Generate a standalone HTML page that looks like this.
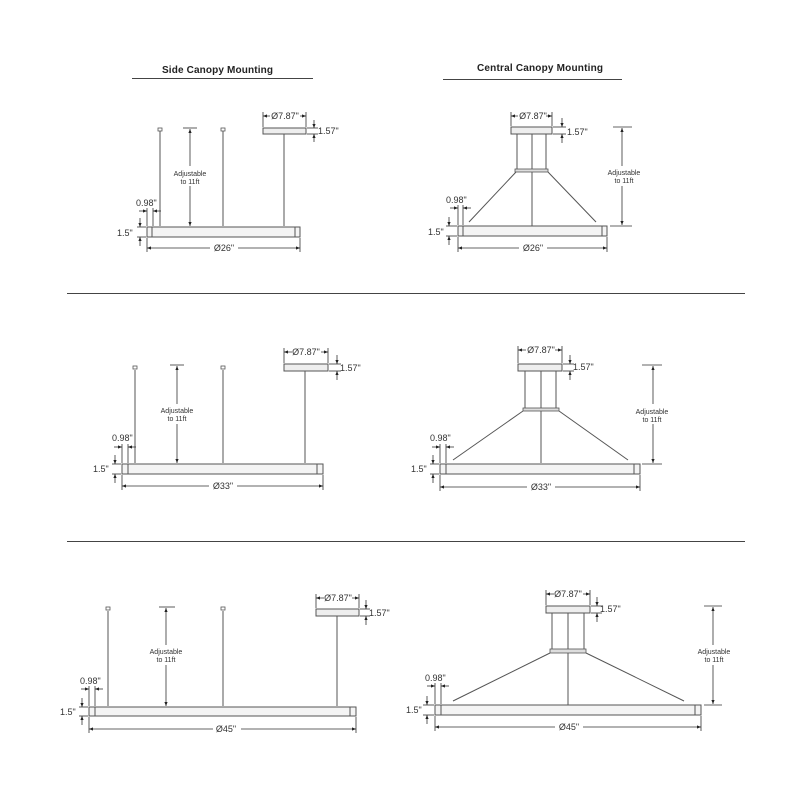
<!DOCTYPE html>
<html><head><meta charset="utf-8"><style>
html,body{margin:0;padding:0;background:#fff}
svg{display:block}
text{font-family:"Liberation Sans",sans-serif;fill:#333}
.d{font-size:9px}
.a{font-size:7px}
.h{font-size:10px;font-weight:bold;fill:#222}
.l{stroke:#555;stroke-width:1;fill:none}
.t{stroke:#333;stroke-width:0.8;fill:none}
.bar{fill:#f4f4f4;stroke:#555;stroke-width:1}
</style></head><body>
<svg width="800" height="800" viewBox="0 0 800 800" xmlns="http://www.w3.org/2000/svg">
<defs>
<marker id="ar" viewBox="0 0 10 10" refX="10" refY="5" markerWidth="5" markerHeight="5" orient="auto-start-reverse"><path d="M0,1 L10,5 L0,9 z" fill="#222"/></marker>
</defs>

<!-- headers -->
<text class="h" x="162" y="73" textLength="111">Side Canopy Mounting</text>
<line x1="132" y1="78.5" x2="313" y2="78.5" stroke="#444" stroke-width="1"/>
<text class="h" x="477" y="71" textLength="126">Central Canopy Mounting</text>
<line x1="443" y1="79.5" x2="622" y2="79.5" stroke="#444" stroke-width="1"/>
<line x1="67" y1="293.5" x2="745" y2="293.5" stroke="#444" stroke-width="1"/>
<line x1="67" y1="541.5" x2="745" y2="541.5" stroke="#444" stroke-width="1"/>

<!-- ===== Panel 1: side 26 ===== -->
<g>
<line class="l" x1="160" y1="131" x2="160" y2="226"/><rect x="158" y="128" width="4" height="3" fill="#fff" stroke="#555" stroke-width="0.8"/>
<line class="l" x1="223" y1="131" x2="223" y2="226"/><rect x="221" y="128" width="4" height="3" fill="#fff" stroke="#555" stroke-width="0.8"/>
<line class="l" x1="284" y1="134" x2="284" y2="226"/>
<rect x="263" y="128" width="43" height="6" fill="#eee" stroke="#555"/>
<line class="t" x1="183" y1="128" x2="197" y2="128"/>
<line class="t" x1="190" y1="129" x2="190" y2="226" marker-start="url(#ar)" marker-end="url(#ar)"/>
<rect x="180" y="166" width="20" height="20" fill="#fff"/>
<text class="a" x="190" y="176" text-anchor="middle">Adjustable</text>
<text class="a" x="190" y="184" text-anchor="middle">to 11ft</text>
<rect class="bar" x="147" y="227" width="153" height="10"/>
<line class="l" x1="152" y1="227" x2="152" y2="237"/><line class="l" x1="295" y1="227" x2="295" y2="237"/>
<!-- dims -->
<line class="t" x1="263" y1="112" x2="263" y2="127"/><line class="t" x1="306" y1="112" x2="306" y2="127"/>
<line class="t" x1="263" y1="116" x2="306" y2="116" marker-start="url(#ar)" marker-end="url(#ar)"/>
<rect x="270" y="110" width="30" height="10" fill="#fff"/>
<text class="d" x="285" y="119" text-anchor="middle">Ø7.87"</text>
<line class="t" x1="307" y1="128" x2="318" y2="128"/><line class="t" x1="307" y1="134" x2="318" y2="134"/>
<line class="t" x1="314" y1="120" x2="314" y2="128" marker-end="url(#ar)"/><line class="t" x1="314" y1="142" x2="314" y2="134" marker-end="url(#ar)"/>
<text class="d" x="318" y="134">1.57"</text>
<text class="d" x="136" y="206">0.98"</text>
<line class="t" x1="147" y1="208" x2="147" y2="226"/><line class="t" x1="153" y1="208" x2="153" y2="226"/>
<line class="t" x1="139" y1="211" x2="147" y2="211" marker-end="url(#ar)"/><line class="t" x1="161" y1="211" x2="153" y2="211" marker-end="url(#ar)"/>
<line class="t" x1="137" y1="227" x2="146" y2="227"/><line class="t" x1="137" y1="237" x2="146" y2="237"/>
<line class="t" x1="140" y1="218" x2="140" y2="227" marker-end="url(#ar)"/><line class="t" x1="140" y1="246" x2="140" y2="237" marker-end="url(#ar)"/>
<text class="d" x="117" y="236">1.5"</text>
<line class="t" x1="147" y1="238" x2="147" y2="252"/><line class="t" x1="300" y1="238" x2="300" y2="252"/>
<line class="t" x1="147" y1="248" x2="300" y2="248" marker-start="url(#ar)" marker-end="url(#ar)"/>
<rect x="210" y="243" width="28" height="10" fill="#fff"/>
<text class="d" x="224" y="251" text-anchor="middle">Ø26"</text>
</g>

<!-- ===== Panel 2: central 26 ===== -->
<g>
<rect x="511" y="127" width="41" height="7" fill="#eee" stroke="#555"/>
<line class="l" x1="517" y1="134" x2="517" y2="169"/><line class="l" x1="546" y1="134" x2="546" y2="169"/>
<line class="l" x1="532" y1="134" x2="532" y2="226"/>
<rect x="515" y="169" width="33" height="3" fill="#ddd" stroke="#555" stroke-width="0.8"/>
<line class="l" x1="516" y1="172" x2="469" y2="222"/><line class="l" x1="548" y1="172" x2="596" y2="222"/>
<rect class="bar" x="458" y="226" width="149" height="10"/>
<line class="l" x1="463" y1="226" x2="463" y2="236"/><line class="l" x1="602" y1="226" x2="602" y2="236"/>
<line class="t" x1="613" y1="127" x2="632" y2="127"/><line class="t" x1="610" y1="226" x2="632" y2="226"/>
<line class="t" x1="622" y1="128" x2="622" y2="225" marker-start="url(#ar)" marker-end="url(#ar)"/>
<rect x="604" y="166" width="40" height="20" fill="#fff"/>
<text class="a" x="624" y="175" text-anchor="middle">Adjustable</text>
<text class="a" x="624" y="183" text-anchor="middle">to 11ft</text>
<line class="t" x1="511" y1="112" x2="511" y2="126"/><line class="t" x1="552" y1="112" x2="552" y2="126"/>
<line class="t" x1="511" y1="116" x2="552" y2="116" marker-start="url(#ar)" marker-end="url(#ar)"/>
<rect x="518" y="110" width="28" height="10" fill="#fff"/>
<text class="d" x="533" y="119" text-anchor="middle">Ø7.87"</text>
<line class="t" x1="553" y1="127" x2="566" y2="127"/><line class="t" x1="553" y1="134" x2="566" y2="134"/>
<line class="t" x1="562" y1="118" x2="562" y2="127" marker-end="url(#ar)"/><line class="t" x1="562" y1="143" x2="562" y2="134" marker-end="url(#ar)"/>
<text class="d" x="567" y="135">1.57"</text>
<text class="d" x="446" y="203">0.98"</text>
<line class="t" x1="458" y1="205" x2="458" y2="225"/><line class="t" x1="463" y1="205" x2="463" y2="225"/>
<line class="t" x1="450" y1="208" x2="458" y2="208" marker-end="url(#ar)"/><line class="t" x1="471" y1="208" x2="463" y2="208" marker-end="url(#ar)"/>
<line class="t" x1="446" y1="226" x2="457" y2="226"/><line class="t" x1="446" y1="236" x2="457" y2="236"/>
<line class="t" x1="449" y1="217" x2="449" y2="226" marker-end="url(#ar)"/><line class="t" x1="449" y1="245" x2="449" y2="236" marker-end="url(#ar)"/>
<text class="d" x="428" y="235">1.5"</text>
<line class="t" x1="458" y1="237" x2="458" y2="252"/><line class="t" x1="607" y1="237" x2="607" y2="252"/>
<line class="t" x1="458" y1="248" x2="607" y2="248" marker-start="url(#ar)" marker-end="url(#ar)"/>
<rect x="519" y="243" width="28" height="10" fill="#fff"/>
<text class="d" x="533" y="251" text-anchor="middle">Ø26"</text>
</g>

<!-- ===== Panel 3: side 33 ===== -->
<g>
<line class="l" x1="135" y1="370" x2="135" y2="463"/><rect x="133" y="366" width="4" height="3" fill="#fff" stroke="#555" stroke-width="0.8"/>
<line class="l" x1="223" y1="370" x2="223" y2="463"/><rect x="221" y="366" width="4" height="3" fill="#fff" stroke="#555" stroke-width="0.8"/>
<line class="l" x1="305" y1="371" x2="305" y2="463"/>
<rect x="284" y="364" width="44" height="7" fill="#eee" stroke="#555"/>
<line class="t" x1="170" y1="365" x2="184" y2="365"/>
<line class="t" x1="177" y1="366" x2="177" y2="463" marker-start="url(#ar)" marker-end="url(#ar)"/>
<rect x="157" y="404" width="40" height="20" fill="#fff"/>
<text class="a" x="177" y="413" text-anchor="middle">Adjustable</text>
<text class="a" x="177" y="421" text-anchor="middle">to 11ft</text>
<rect class="bar" x="122" y="464" width="201" height="10"/>
<line class="l" x1="128" y1="464" x2="128" y2="474"/><line class="l" x1="317" y1="464" x2="317" y2="474"/>
<line class="t" x1="284" y1="348" x2="284" y2="363"/><line class="t" x1="328" y1="348" x2="328" y2="363"/>
<line class="t" x1="284" y1="352" x2="328" y2="352" marker-start="url(#ar)" marker-end="url(#ar)"/>
<rect x="292" y="346" width="29" height="10" fill="#fff"/>
<text class="d" x="306" y="355" text-anchor="middle">Ø7.87"</text>
<line class="t" x1="329" y1="364" x2="341" y2="364"/><line class="t" x1="329" y1="371" x2="341" y2="371"/>
<line class="t" x1="337" y1="355" x2="337" y2="364" marker-end="url(#ar)"/><line class="t" x1="337" y1="380" x2="337" y2="371" marker-end="url(#ar)"/>
<text class="d" x="340" y="371">1.57"</text>
<text class="d" x="112" y="441">0.98"</text>
<line class="t" x1="122" y1="444" x2="122" y2="463"/><line class="t" x1="128" y1="444" x2="128" y2="463"/>
<line class="t" x1="114" y1="447" x2="122" y2="447" marker-end="url(#ar)"/><line class="t" x1="136" y1="447" x2="128" y2="447" marker-end="url(#ar)"/>
<line class="t" x1="112" y1="464" x2="121" y2="464"/><line class="t" x1="112" y1="474" x2="121" y2="474"/>
<line class="t" x1="115" y1="455" x2="115" y2="464" marker-end="url(#ar)"/><line class="t" x1="115" y1="483" x2="115" y2="474" marker-end="url(#ar)"/>
<text class="d" x="93" y="472">1.5"</text>
<line class="t" x1="122" y1="475" x2="122" y2="490"/><line class="t" x1="323" y1="475" x2="323" y2="490"/>
<line class="t" x1="122" y1="486" x2="323" y2="486" marker-start="url(#ar)" marker-end="url(#ar)"/>
<rect x="209" y="481" width="28" height="10" fill="#fff"/>
<text class="d" x="223" y="489" text-anchor="middle">Ø33"</text>
</g>

<!-- ===== Panel 4: central 33 ===== -->
<g>
<rect x="518" y="364" width="44" height="7" fill="#eee" stroke="#555"/>
<line class="l" x1="525" y1="371" x2="525" y2="408"/><line class="l" x1="556" y1="371" x2="556" y2="408"/>
<line class="l" x1="541" y1="371" x2="541" y2="463"/>
<rect x="523" y="408" width="36" height="3" fill="#ddd" stroke="#555" stroke-width="0.8"/>
<line class="l" x1="523" y1="411" x2="453" y2="460"/><line class="l" x1="559" y1="411" x2="628" y2="460"/>
<rect class="bar" x="440" y="464" width="200" height="10"/>
<line class="l" x1="446" y1="464" x2="446" y2="474"/><line class="l" x1="634" y1="464" x2="634" y2="474"/>
<line class="t" x1="642" y1="365" x2="662" y2="365"/><line class="t" x1="642" y1="464" x2="662" y2="464"/>
<line class="t" x1="653" y1="366" x2="653" y2="463" marker-start="url(#ar)" marker-end="url(#ar)"/>
<rect x="633" y="404" width="40" height="20" fill="#fff"/>
<text class="a" x="652" y="414" text-anchor="middle">Adjustable</text>
<text class="a" x="652" y="422" text-anchor="middle">to 11ft</text>
<line class="t" x1="518" y1="346" x2="518" y2="363"/><line class="t" x1="562" y1="346" x2="562" y2="363"/>
<line class="t" x1="518" y1="350" x2="562" y2="350" marker-start="url(#ar)" marker-end="url(#ar)"/>
<rect x="526" y="344" width="29" height="10" fill="#fff"/>
<text class="d" x="541" y="353" text-anchor="middle">Ø7.87"</text>
<line class="t" x1="563" y1="364" x2="574" y2="364"/><line class="t" x1="563" y1="371" x2="574" y2="371"/>
<line class="t" x1="570" y1="355" x2="570" y2="364" marker-end="url(#ar)"/><line class="t" x1="570" y1="380" x2="570" y2="371" marker-end="url(#ar)"/>
<text class="d" x="573" y="370">1.57"</text>
<text class="d" x="430" y="441">0.98"</text>
<line class="t" x1="440" y1="444" x2="440" y2="463"/><line class="t" x1="446" y1="444" x2="446" y2="463"/>
<line class="t" x1="432" y1="447" x2="440" y2="447" marker-end="url(#ar)"/><line class="t" x1="454" y1="447" x2="446" y2="447" marker-end="url(#ar)"/>
<line class="t" x1="430" y1="464" x2="439" y2="464"/><line class="t" x1="430" y1="474" x2="439" y2="474"/>
<line class="t" x1="433" y1="455" x2="433" y2="464" marker-end="url(#ar)"/><line class="t" x1="433" y1="483" x2="433" y2="474" marker-end="url(#ar)"/>
<text class="d" x="411" y="472">1.5"</text>
<line class="t" x1="440" y1="475" x2="440" y2="491"/><line class="t" x1="640" y1="475" x2="640" y2="491"/>
<line class="t" x1="440" y1="487" x2="640" y2="487" marker-start="url(#ar)" marker-end="url(#ar)"/>
<rect x="527" y="482" width="28" height="10" fill="#fff"/>
<text class="d" x="541" y="490" text-anchor="middle">Ø33"</text>
</g>

<!-- ===== Panel 5: side 45 ===== -->
<g>
<line class="l" x1="108" y1="611" x2="108" y2="706"/><rect x="106" y="607" width="4" height="3" fill="#fff" stroke="#555" stroke-width="0.8"/>
<line class="l" x1="223" y1="611" x2="223" y2="706"/><rect x="221" y="607" width="4" height="3" fill="#fff" stroke="#555" stroke-width="0.8"/>
<line class="l" x1="337" y1="616" x2="337" y2="706"/>
<rect x="316" y="609" width="43" height="7" fill="#eee" stroke="#555"/>
<line class="t" x1="159" y1="607" x2="175" y2="607"/>
<line class="t" x1="166" y1="608" x2="166" y2="706" marker-start="url(#ar)" marker-end="url(#ar)"/>
<rect x="146" y="645" width="40" height="20" fill="#fff"/>
<text class="a" x="166" y="654" text-anchor="middle">Adjustable</text>
<text class="a" x="166" y="662" text-anchor="middle">to 11ft</text>
<rect class="bar" x="89" y="707" width="267" height="9"/>
<line class="l" x1="95" y1="707" x2="95" y2="716"/><line class="l" x1="350" y1="707" x2="350" y2="716"/>
<line class="t" x1="316" y1="594" x2="316" y2="608"/><line class="t" x1="359" y1="594" x2="359" y2="608"/>
<line class="t" x1="316" y1="598" x2="359" y2="598" marker-start="url(#ar)" marker-end="url(#ar)"/>
<rect x="324" y="592" width="28" height="10" fill="#fff"/>
<text class="d" x="338" y="601" text-anchor="middle">Ø7.87"</text>
<line class="t" x1="360" y1="609" x2="370" y2="609"/><line class="t" x1="360" y1="616" x2="370" y2="616"/>
<line class="t" x1="366" y1="600" x2="366" y2="609" marker-end="url(#ar)"/><line class="t" x1="366" y1="625" x2="366" y2="616" marker-end="url(#ar)"/>
<text class="d" x="369" y="616">1.57"</text>
<text class="d" x="80" y="684">0.98"</text>
<line class="t" x1="89" y1="686" x2="89" y2="706"/><line class="t" x1="95" y1="686" x2="95" y2="706"/>
<line class="t" x1="81" y1="689" x2="89" y2="689" marker-end="url(#ar)"/><line class="t" x1="103" y1="689" x2="95" y2="689" marker-end="url(#ar)"/>
<line class="t" x1="79" y1="707" x2="88" y2="707"/><line class="t" x1="79" y1="716" x2="88" y2="716"/>
<line class="t" x1="82" y1="698" x2="82" y2="707" marker-end="url(#ar)"/><line class="t" x1="82" y1="725" x2="82" y2="716" marker-end="url(#ar)"/>
<text class="d" x="60" y="715">1.5"</text>
<line class="t" x1="89" y1="717" x2="89" y2="733"/><line class="t" x1="356" y1="717" x2="356" y2="733"/>
<line class="t" x1="89" y1="729" x2="356" y2="729" marker-start="url(#ar)" marker-end="url(#ar)"/>
<rect x="213" y="724" width="28" height="10" fill="#fff"/>
<text class="d" x="226" y="732" text-anchor="middle">Ø45"</text>
</g>

<!-- ===== Panel 6: central 45 ===== -->
<g>
<rect x="546" y="606" width="44" height="7" fill="#eee" stroke="#555"/>
<line class="l" x1="552" y1="613" x2="552" y2="649"/><line class="l" x1="584" y1="613" x2="584" y2="649"/>
<line class="l" x1="568" y1="613" x2="568" y2="705"/>
<rect x="550" y="649" width="36" height="4" fill="#ddd" stroke="#555" stroke-width="0.8"/>
<line class="l" x1="550" y1="653" x2="453" y2="701"/><line class="l" x1="586" y1="653" x2="684" y2="701"/>
<rect class="bar" x="435" y="705" width="266" height="10"/>
<line class="l" x1="441" y1="705" x2="441" y2="715"/><line class="l" x1="695" y1="705" x2="695" y2="715"/>
<line class="t" x1="704" y1="606" x2="722" y2="606"/><line class="t" x1="704" y1="705" x2="722" y2="705"/>
<line class="t" x1="713" y1="607" x2="713" y2="704" marker-start="url(#ar)" marker-end="url(#ar)"/>
<rect x="694" y="645" width="40" height="20" fill="#fff"/>
<text class="a" x="714" y="654" text-anchor="middle">Adjustable</text>
<text class="a" x="714" y="662" text-anchor="middle">to 11ft</text>
<line class="t" x1="546" y1="590" x2="546" y2="605"/><line class="t" x1="590" y1="590" x2="590" y2="605"/>
<line class="t" x1="546" y1="594" x2="590" y2="594" marker-start="url(#ar)" marker-end="url(#ar)"/>
<rect x="554" y="588" width="29" height="10" fill="#fff"/>
<text class="d" x="568" y="597" text-anchor="middle">Ø7.87"</text>
<line class="t" x1="591" y1="606" x2="602" y2="606"/><line class="t" x1="591" y1="613" x2="602" y2="613"/>
<line class="t" x1="597" y1="597" x2="597" y2="606" marker-end="url(#ar)"/><line class="t" x1="597" y1="622" x2="597" y2="613" marker-end="url(#ar)"/>
<text class="d" x="600" y="612">1.57"</text>
<text class="d" x="425" y="681">0.98"</text>
<line class="t" x1="435" y1="683" x2="435" y2="704"/><line class="t" x1="441" y1="683" x2="441" y2="704"/>
<line class="t" x1="427" y1="686" x2="435" y2="686" marker-end="url(#ar)"/><line class="t" x1="449" y1="686" x2="441" y2="686" marker-end="url(#ar)"/>
<line class="t" x1="423" y1="705" x2="434" y2="705"/><line class="t" x1="423" y1="715" x2="434" y2="715"/>
<line class="t" x1="427" y1="696" x2="427" y2="705" marker-end="url(#ar)"/><line class="t" x1="427" y1="724" x2="427" y2="715" marker-end="url(#ar)"/>
<text class="d" x="406" y="713">1.5"</text>
<line class="t" x1="435" y1="716" x2="435" y2="731"/><line class="t" x1="701" y1="716" x2="701" y2="731"/>
<line class="t" x1="435" y1="727" x2="701" y2="727" marker-start="url(#ar)" marker-end="url(#ar)"/>
<rect x="555" y="722" width="28" height="10" fill="#fff"/>
<text class="d" x="569" y="730" text-anchor="middle">Ø45"</text>
</g>
</svg>
</body></html>
